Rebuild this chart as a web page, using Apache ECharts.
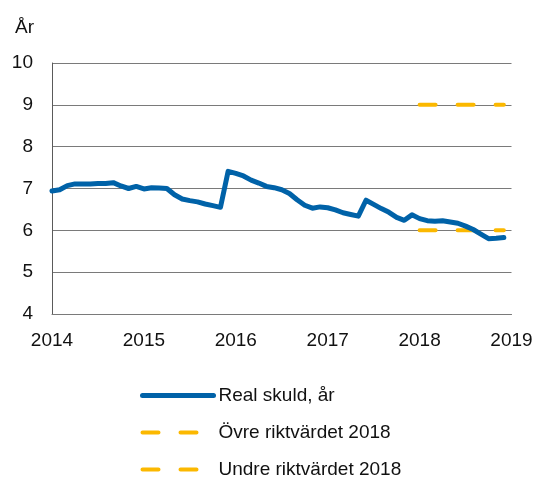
<!DOCTYPE html>
<html>
<head>
<meta charset="utf-8">
<script src="https://cdn.jsdelivr.net/npm/echarts@6/dist/echarts.min.js"></script>
<style>
  html, body { margin: 0; padding: 0; background: #fff; }
  #chart { width: 537px; height: 477px; }
</style>
</head>
<body>
<div id="chart"></div>
<script>
// månadsvärden jan 2014 - dec 2018
const startYear = 2014;
const realSkuld = [
  6.94, 6.97, 7.07, 7.11, 7.11, 7.11, 7.12, 7.12, 7.14, 7.06, 7.00, 7.05,
  6.99, 7.02, 7.01, 7.00, 6.85, 6.75, 6.71, 6.68, 6.63, 6.59, 6.55, 7.41,
  7.36, 7.30, 7.20, 7.13, 7.05, 7.02, 6.97, 6.88, 6.73, 6.60, 6.53, 6.56,
  6.54, 6.49, 6.42, 6.38, 6.34, 6.72, 6.62, 6.52, 6.43, 6.31, 6.24, 6.37,
  6.28, 6.23, 6.22, 6.23, 6.20, 6.17, 6.10, 6.02, 5.91, 5.80, 5.81, 5.83
];
// riktvärden 2018 (jan - dec)
const targetYear = 2018;
const ovreRiktvarde  = [9, 9, 9, 9, 9, 9, 9, 9, 9, 9, 9, 9];
const undreRiktvarde = [6, 6, 6, 6, 6, 6, 6, 6, 6, 6, 6, 6];
const yearTicks = [2014, 2015, 2016, 2017, 2018, 2019];

const seriesNames = ['Real skuld, år', 'Övre riktvärdet 2018', 'Undre riktvärdet 2018'];
const blue = '#0062a8';
const yellow = '#fbb800';
const font = '"Liberation Sans", Arial, sans-serif';
const dash = [16, 22];

const toPoints = (arr, y0) => arr.map((v, i) => [y0 + i / 12, v]);

const chart = echarts.init(document.getElementById('chart'));
chart.setOption({
  animation: false,
  textStyle: { fontFamily: font },
  grid: { left: 52, right: 25.5, top: 63, bottom: 163 },
  legend: {
    orient: 'vertical',
    left: 140,
    top: 386,
    height: 150,
    padding: 0,
    itemWidth: 71,
    itemHeight: 18,
    itemGap: 18,
    itemStyle: { opacity: 0 },
    textStyle: { fontSize: 19, color: '#111', fontFamily: font },
    data: [
      { name: seriesNames[0], lineStyle: { color: blue, width: 5, type: 'solid', cap: 'round' } },
      { name: seriesNames[1], lineStyle: { color: yellow, width: 4, type: dash, cap: 'round' } },
      { name: seriesNames[2], lineStyle: { color: yellow, width: 4, type: dash, cap: 'round' } }
    ]
  },
  xAxis: {
    type: 'value',
    min: yearTicks[0],
    max: yearTicks[yearTicks.length - 1],
    interval: 1,
    axisLine: { show: true, lineStyle: { color: '#7a7a7a', width: 1 } },
    axisTick: { show: false },
    splitLine: { show: false },
    axisLabel: {
      fontSize: 19, color: '#111', margin: 17,
      formatter: v => String(v)
    }
  },
  yAxis: {
    type: 'value',
    min: 4,
    max: 10,
    interval: 1,
    name: 'År',
    nameLocation: 'end',
    nameGap: 35,
    nameTextStyle: { fontSize: 19, color: '#111', align: 'right', verticalAlign: 'middle', padding: [0, 18, 0, 0] },
    axisLine: { show: true, lineStyle: { color: '#5a5a5a', width: 1 } },
    axisTick: { show: false },
    splitLine: { show: true, lineStyle: { color: '#7a7a7a', width: 1 } },
    axisLabel: { fontSize: 19, color: '#111', margin: 19 }
  },
  series: [
    {
      name: seriesNames[0],
      type: 'line',
      data: toPoints(realSkuld, startYear),
      showSymbol: false,
      symbol: 'none',
      lineStyle: { color: blue, width: 5, cap: 'round', join: 'round' },
      itemStyle: { color: blue },
      z: 3
    },
    {
      name: seriesNames[1],
      type: 'line',
      data: toPoints(ovreRiktvarde, targetYear),
      showSymbol: false,
      symbol: 'none',
      lineStyle: { color: yellow, width: 4, type: dash, cap: 'round' },
      itemStyle: { color: yellow },
      z: 2
    },
    {
      name: seriesNames[2],
      type: 'line',
      data: toPoints(undreRiktvarde, targetYear),
      showSymbol: false,
      symbol: 'none',
      lineStyle: { color: yellow, width: 4, type: dash, cap: 'round' },
      itemStyle: { color: yellow },
      z: 2
    }
  ]
});
</script>
</body>
</html>
